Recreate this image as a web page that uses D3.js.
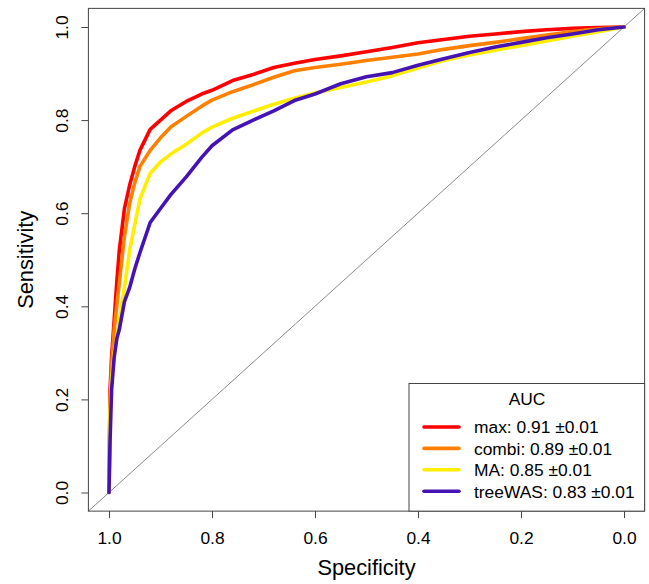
<!DOCTYPE html>
<html>
<head>
<meta charset="utf-8">
<script src="https://cdn.jsdelivr.net/npm/d3@7"></script>
<style>
  body { margin: 0; background: #fff; }
  text { font-family: "Liberation Sans", Arial, sans-serif; fill: #000; }
</style>
</head>
<body>
<svg id="chart" width="649" height="584"></svg>
<script>
// SPECIFICITY GRID (shared by all curves)
var spec = [1.0, 0.998, 0.995, 0.99, 0.985, 0.98, 0.97, 0.96, 0.95, 0.94, 0.92, 0.90, 0.88, 0.85,
            0.82, 0.80, 0.76, 0.72, 0.68, 0.64, 0.60, 0.55, 0.50, 0.45, 0.40, 0.35, 0.30, 0.25,
            0.20, 0.15, 0.10, 0.05, 0.0];

// SENSITIVITY PER METHOD
var sensMax = [0, 0.22, 0.29, 0.37, 0.45, 0.52, 0.61, 0.66, 0.70, 0.735, 0.78, 0.80, 0.82, 0.84,
               0.856, 0.864, 0.885, 0.898, 0.913, 0.922, 0.930, 0.938, 0.947, 0.956, 0.966, 0.973, 0.980, 0.985,
               0.990, 0.994, 0.997, 0.999, 1.0];
var sensCombi = [0, 0.20, 0.27, 0.35, 0.40, 0.45, 0.55, 0.62, 0.665, 0.70, 0.735, 0.762, 0.785, 0.808,
                 0.83, 0.843, 0.861, 0.876, 0.892, 0.906, 0.913, 0.920, 0.928, 0.935, 0.942, 0.952, 0.960, 0.967,
                 0.975, 0.983, 0.990, 0.996, 1.0];
var sensMA = [0, 0.17, 0.24, 0.30, 0.33, 0.37, 0.44, 0.52, 0.575, 0.63, 0.686, 0.71, 0.727, 0.748,
              0.772, 0.785, 0.804, 0.819, 0.834, 0.847, 0.858, 0.870, 0.882, 0.895, 0.912, 0.928, 0.940, 0.950,
              0.960, 0.970, 0.980, 0.990, 1.0];
var sensTree = [0, 0.11, 0.22, 0.29, 0.33, 0.35, 0.41, 0.44, 0.48, 0.515, 0.58, 0.61, 0.64, 0.678,
                0.72, 0.745, 0.779, 0.80, 0.82, 0.842, 0.856, 0.878, 0.893, 0.902, 0.918, 0.932, 0.945, 0.957,
                0.967, 0.977, 0.985, 0.994, 1.0];

// LEGEND LABELS AND COLOURS
var labels = ["max: 0.91 \u00b10.01", "combi: 0.89 \u00b10.01", "MA: 0.85 \u00b10.01", "treeWAS: 0.83 \u00b10.01"];
var colors = ["#ff0000", "#ff8000", "#ffee00", "#4513b3"];
var series = [sensMax, sensCombi, sensMA, sensTree];

var xTicks = [1.0, 0.8, 0.6, 0.4, 0.2, 0.0];
var yTicks = [0.0, 0.2, 0.4, 0.6, 0.8, 1.0];

var svg = d3.select("#chart");

// SCALES (specificity reversed)
var x = d3.scaleLinear().domain([1, 0]).range([109, 624]);
var y = d3.scaleLinear().domain([0, 1]).range([492.5, 27]);

var boxL = x(1.04), boxR = x(-0.04), boxT = y(1.04), boxB = y(-0.04);

// DIAGONAL
svg.append("line")
    .attr("x1", x(1.04)).attr("y1", y(-0.04))
    .attr("x2", x(-0.04)).attr("y2", y(1.04))
    .attr("stroke", "#8a8a8a").attr("stroke-width", 1);

// CURVES
var line = d3.line()
    .x(function(d, i) { return x(spec[i]); })
    .y(function(d) { return y(d); });

series.forEach(function(s, k) {
    svg.append("path")
        .attr("d", line(s))
        .attr("fill", "none")
        .attr("stroke", colors[k])
        .attr("stroke-width", 3.6)
        .attr("stroke-linejoin", "round")
        .attr("stroke-linecap", "round");
});

// BOX
svg.append("rect")
    .attr("x", boxL).attr("y", boxT)
    .attr("width", boxR - boxL).attr("height", boxB - boxT)
    .attr("fill", "none").attr("stroke", "#444").attr("stroke-width", 1);

// AXES
var fs = "17.4px";
var gx = svg.append("g")
    .attr("transform", "translate(0," + boxB + ")")
    .call(d3.axisBottom(x).tickValues(xTicks).tickFormat(d3.format(".1f")).tickSize(7).tickPadding(14));
gx.select(".domain").remove();
gx.selectAll("line").attr("stroke", "#444");
gx.selectAll("text").style("font-size", fs).attr("font-family", null);

var gy = svg.append("g")
    .attr("transform", "translate(" + boxL + ",0)")
    .call(d3.axisLeft(y).tickValues(yTicks).tickFormat(d3.format(".1f")).tickSize(7));
gy.select(".domain").remove();
gy.selectAll("line").attr("stroke", "#444");
gy.selectAll("text")
    .style("font-size", fs)
    .attr("font-family", null)
    .attr("transform", "rotate(-90)")
    .attr("x", 0).attr("y", -20).attr("dy", 0)
    .attr("text-anchor", "middle");

// AXIS TITLES
svg.append("text")
    .attr("x", (boxL + boxR) / 2).attr("y", 575)
    .attr("text-anchor", "middle")
    .style("font-size", "21.8px")
    .text("Specificity");

svg.append("text")
    .attr("transform", "translate(33," + (boxT + boxB) / 2 + ") rotate(-90)")
    .attr("text-anchor", "middle")
    .style("font-size", "21.8px")
    .text("Sensitivity");

// LEGEND
var lg = svg.append("g");
lg.append("rect")
    .attr("x", 409).attr("y", 383.5)
    .attr("width", boxR - 409).attr("height", boxB - 383.5)
    .attr("fill", "#fff").attr("stroke", "#444").attr("stroke-width", 1);
lg.append("text")
    .attr("x", 527).attr("y", 405)
    .attr("text-anchor", "middle")
    .style("font-size", fs)
    .text("AUC");

labels.forEach(function(t, i) {
    var cy = 427 + i * 21.4;
    lg.append("line")
        .attr("x1", 424).attr("x2", 459)
        .attr("y1", cy).attr("y2", cy)
        .attr("stroke", colors[i]).attr("stroke-width", 3.6)
        .attr("stroke-linecap", "round");
    lg.append("text")
        .attr("x", 474).attr("y", cy + 6.3)
        .style("font-size", fs)
        .text(t);
});
</script>
</body>
</html>
